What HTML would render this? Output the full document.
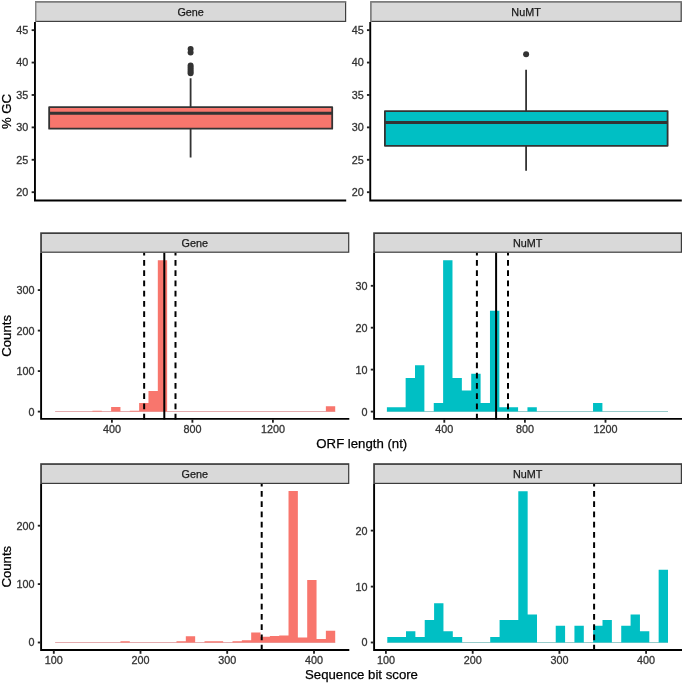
<!DOCTYPE html>
<html lang="en"><head><meta charset="utf-8"><title>GC content, ORF length and bit score: Gene vs NuMT</title>
<style>
html,body{margin:0;padding:0;background:#fff;}
body{width:685px;height:683px;overflow:hidden;}
svg{display:block;will-change:transform;}
</style></head><body>
<svg role="img" aria-label="Boxplots of percent GC and histograms of ORF length and sequence bit score for Gene versus NuMT" width="685" height="683" viewBox="0 0 685 683" font-family="Liberation Sans, Arial, Helvetica, sans-serif">
<rect width="685" height="683" fill="#fff"/>
<path d="M190.60 78.30V107.10M190.60 128.70V157.50" stroke="#333333" stroke-width="1.8" fill="none"/>
<rect x="49.15" y="107.10" width="283.05" height="21.60" fill="#F8766D" stroke="#333333" stroke-width="1.8" stroke-linejoin="round"/>
<line x1="49.15" x2="332.20" y1="113.20" y2="113.20" stroke="#333333" stroke-width="3.0"/>
<circle cx="190.60" cy="48.90" r="3.0" fill="#333333"/>
<circle cx="190.60" cy="52.50" r="3.0" fill="#333333"/>
<circle cx="190.60" cy="65.60" r="3.0" fill="#333333"/>
<circle cx="190.60" cy="67.50" r="3.0" fill="#333333"/>
<circle cx="190.60" cy="69.50" r="3.0" fill="#333333"/>
<circle cx="190.60" cy="71.50" r="3.0" fill="#333333"/>
<circle cx="190.60" cy="73.20" r="3.0" fill="#333333"/>
<path d="M526.10 69.80V111.10M526.10 145.80V170.70" stroke="#333333" stroke-width="1.8" fill="none"/>
<rect x="384.90" y="111.10" width="282.70" height="34.70" fill="#00BFC4" stroke="#333333" stroke-width="1.8" stroke-linejoin="round"/>
<line x1="384.90" x2="667.60" y1="122.50" y2="122.50" stroke="#333333" stroke-width="3.0"/>
<circle cx="526.10" cy="54.30" r="3.0" fill="#333333"/>
<path d="M34.95 22.00V200.50H346.20" fill="none" stroke="#000" stroke-width="1.9" stroke-linejoin="miter"/>
<rect x="35.00" y="1.20" width="311.20" height="20.80" fill="#404040"/>
<path d="M35.00 1.20H346.20V2.60H36.30V22.00H35.00z" fill="#858585"/>
<rect x="36.30" y="2.60" width="308.70" height="18.20" fill="#D9D9D9"/>
<text x="190.60" y="16.00" font-size="10.8" fill="#1A1A1A" stroke="#1A1A1A" stroke-width="0.25" text-anchor="middle">Gene</text>
<line x1="31.65" x2="34.45" y1="30.15" y2="30.15" stroke="#222" stroke-width="1.85"/>
<text x="28.35" y="34.05" font-size="10.8" fill="#333" stroke="#333" stroke-width="0.3" text-anchor="end">45</text>
<line x1="31.65" x2="34.45" y1="62.56" y2="62.56" stroke="#222" stroke-width="1.85"/>
<text x="28.35" y="66.46" font-size="10.8" fill="#333" stroke="#333" stroke-width="0.3" text-anchor="end">40</text>
<line x1="31.65" x2="34.45" y1="94.97" y2="94.97" stroke="#222" stroke-width="1.85"/>
<text x="28.35" y="98.87" font-size="10.8" fill="#333" stroke="#333" stroke-width="0.3" text-anchor="end">35</text>
<line x1="31.65" x2="34.45" y1="127.38" y2="127.38" stroke="#222" stroke-width="1.85"/>
<text x="28.35" y="131.28" font-size="10.8" fill="#333" stroke="#333" stroke-width="0.3" text-anchor="end">30</text>
<line x1="31.65" x2="34.45" y1="159.79" y2="159.79" stroke="#222" stroke-width="1.85"/>
<text x="28.35" y="163.69" font-size="10.8" fill="#333" stroke="#333" stroke-width="0.3" text-anchor="end">25</text>
<line x1="31.65" x2="34.45" y1="192.20" y2="192.20" stroke="#222" stroke-width="1.85"/>
<text x="28.35" y="196.10" font-size="10.8" fill="#333" stroke="#333" stroke-width="0.3" text-anchor="end">20</text>
<path d="M370.25 22.00V200.50H681.80" fill="none" stroke="#000" stroke-width="1.9" stroke-linejoin="miter"/>
<rect x="370.30" y="1.20" width="311.50" height="20.80" fill="#404040"/>
<path d="M370.30 1.20H681.80V2.60H371.60V22.00H370.30z" fill="#858585"/>
<rect x="371.60" y="2.60" width="309.00" height="18.20" fill="#D9D9D9"/>
<text x="526.05" y="16.00" font-size="10.8" fill="#1A1A1A" stroke="#1A1A1A" stroke-width="0.25" text-anchor="middle">NuMT</text>
<line x1="366.95" x2="369.75" y1="30.15" y2="30.15" stroke="#222" stroke-width="1.85"/>
<text x="363.65" y="34.05" font-size="10.8" fill="#333" stroke="#333" stroke-width="0.3" text-anchor="end">45</text>
<line x1="366.95" x2="369.75" y1="62.56" y2="62.56" stroke="#222" stroke-width="1.85"/>
<text x="363.65" y="66.46" font-size="10.8" fill="#333" stroke="#333" stroke-width="0.3" text-anchor="end">40</text>
<line x1="366.95" x2="369.75" y1="94.97" y2="94.97" stroke="#222" stroke-width="1.85"/>
<text x="363.65" y="98.87" font-size="10.8" fill="#333" stroke="#333" stroke-width="0.3" text-anchor="end">35</text>
<line x1="366.95" x2="369.75" y1="127.38" y2="127.38" stroke="#222" stroke-width="1.85"/>
<text x="363.65" y="131.28" font-size="10.8" fill="#333" stroke="#333" stroke-width="0.3" text-anchor="end">30</text>
<line x1="366.95" x2="369.75" y1="159.79" y2="159.79" stroke="#222" stroke-width="1.85"/>
<text x="363.65" y="163.69" font-size="10.8" fill="#333" stroke="#333" stroke-width="0.3" text-anchor="end">25</text>
<line x1="366.95" x2="369.75" y1="192.20" y2="192.20" stroke="#222" stroke-width="1.85"/>
<text x="363.65" y="196.10" font-size="10.8" fill="#333" stroke="#333" stroke-width="0.3" text-anchor="end">20</text>
<text transform="translate(11.1 111.5) rotate(-90)" font-size="13.2" fill="#000" stroke="#000" stroke-width="0.25" text-anchor="middle">% GC</text>
<line x1="55.10" x2="335.21" y1="411.50" y2="411.50" stroke="#D98C90" stroke-width="0.72"/>
<path d="M92.45 411.50v-0.80h9.34v0.80zM111.12 411.50v-4.62h9.34v4.62zM129.80 411.50v-0.80h9.34v0.80zM139.13 411.50v-8.44h9.34v8.44zM148.47 411.50v-20.50h9.34v20.50zM157.81 411.50v-151.15h9.34v151.15zM325.87 411.50v-5.23h9.34v5.23z" fill="#F8766D"/>
<line x1="386.90" x2="668.00" y1="411.50" y2="411.50" stroke="#6FB8B8" stroke-width="0.72"/>
<path d="M386.90 411.50v-4.20h9.37v4.20zM396.27 411.50v-4.20h9.37v4.20zM405.64 411.50v-33.60h9.37v33.60zM415.01 411.50v-46.20h9.37v46.20zM433.75 411.50v-8.40h9.37v8.40zM443.12 411.50v-151.20h9.37v151.20zM452.49 411.50v-33.60h9.37v33.60zM461.86 411.50v-21.00h9.37v21.00zM471.23 411.50v-37.80h9.37v37.80zM480.60 411.50v-8.40h9.37v8.40zM489.97 411.50v-100.80h9.37v100.80zM499.34 411.50v-4.20h9.37v4.20zM508.71 411.50v-4.20h9.37v4.20zM527.45 411.50v-4.20h9.37v4.20zM593.04 411.50v-8.40h9.37v8.40z" fill="#00BFC4"/>
<line x1="144.15" x2="144.15" y1="419.50" y2="252.80" stroke="#000" stroke-width="2" stroke-dasharray="5.85 4.4"/>
<line x1="164.30" x2="164.30" y1="419.50" y2="252.80" stroke="#000" stroke-width="2"/>
<line x1="175.50" x2="175.50" y1="419.50" y2="252.80" stroke="#000" stroke-width="2" stroke-dasharray="5.85 4.4"/>
<line x1="476.90" x2="476.90" y1="419.50" y2="252.80" stroke="#000" stroke-width="2" stroke-dasharray="5.85 4.4"/>
<line x1="496.10" x2="496.10" y1="419.50" y2="252.80" stroke="#000" stroke-width="2"/>
<line x1="508.00" x2="508.00" y1="419.50" y2="252.80" stroke="#000" stroke-width="2" stroke-dasharray="5.85 4.4"/>
<path d="M41.10 252.80V418.90H349.30" fill="none" stroke="#000" stroke-width="1.9" stroke-linejoin="miter"/>
<rect x="40.20" y="232.30" width="309.10" height="20.50" fill="#3c3c3c"/>
<rect x="41.90" y="234.00" width="306.20" height="17.60" fill="#D9D9D9"/>
<text x="194.75" y="247.00" font-size="10.8" fill="#1A1A1A" stroke="#1A1A1A" stroke-width="0.25" text-anchor="middle">Gene</text>
<path d="M374.10 252.80V418.90H682.00" fill="none" stroke="#000" stroke-width="1.9" stroke-linejoin="miter"/>
<rect x="373.20" y="232.30" width="308.80" height="20.50" fill="#3c3c3c"/>
<rect x="374.90" y="234.00" width="305.90" height="17.60" fill="#D9D9D9"/>
<text x="527.60" y="247.00" font-size="10.8" fill="#1A1A1A" stroke="#1A1A1A" stroke-width="0.25" text-anchor="middle">NuMT</text>
<line x1="37.80" x2="40.60" y1="411.60" y2="411.60" stroke="#222" stroke-width="1.85"/>
<text x="34.50" y="415.50" font-size="10.8" fill="#333" stroke="#333" stroke-width="0.3" text-anchor="end">0</text>
<line x1="37.80" x2="40.60" y1="371.10" y2="371.10" stroke="#222" stroke-width="1.85"/>
<text x="34.50" y="375.00" font-size="10.8" fill="#333" stroke="#333" stroke-width="0.3" text-anchor="end">100</text>
<line x1="37.80" x2="40.60" y1="330.60" y2="330.60" stroke="#222" stroke-width="1.85"/>
<text x="34.50" y="334.50" font-size="10.8" fill="#333" stroke="#333" stroke-width="0.3" text-anchor="end">200</text>
<line x1="37.80" x2="40.60" y1="290.10" y2="290.10" stroke="#222" stroke-width="1.85"/>
<text x="34.50" y="294.00" font-size="10.8" fill="#333" stroke="#333" stroke-width="0.3" text-anchor="end">300</text>
<line x1="370.80" x2="373.60" y1="411.60" y2="411.60" stroke="#222" stroke-width="1.85"/>
<text x="367.50" y="415.50" font-size="10.8" fill="#333" stroke="#333" stroke-width="0.3" text-anchor="end">0</text>
<line x1="370.80" x2="373.60" y1="369.60" y2="369.60" stroke="#222" stroke-width="1.85"/>
<text x="367.50" y="373.50" font-size="10.8" fill="#333" stroke="#333" stroke-width="0.3" text-anchor="end">10</text>
<line x1="370.80" x2="373.60" y1="327.70" y2="327.70" stroke="#222" stroke-width="1.85"/>
<text x="367.50" y="331.60" font-size="10.8" fill="#333" stroke="#333" stroke-width="0.3" text-anchor="end">20</text>
<line x1="370.80" x2="373.60" y1="285.80" y2="285.80" stroke="#222" stroke-width="1.85"/>
<text x="367.50" y="289.70" font-size="10.8" fill="#333" stroke="#333" stroke-width="0.3" text-anchor="end">30</text>
<line x1="111.90" x2="111.90" y1="419.40" y2="422.70" stroke="#222" stroke-width="1.85"/>
<text x="111.90" y="433.10" font-size="10.8" fill="#333" stroke="#333" stroke-width="0.3" text-anchor="middle">400</text>
<line x1="192.40" x2="192.40" y1="419.40" y2="422.70" stroke="#222" stroke-width="1.85"/>
<text x="192.40" y="433.10" font-size="10.8" fill="#333" stroke="#333" stroke-width="0.3" text-anchor="middle">800</text>
<line x1="272.90" x2="272.90" y1="419.40" y2="422.70" stroke="#222" stroke-width="1.85"/>
<text x="272.90" y="433.10" font-size="10.8" fill="#333" stroke="#333" stroke-width="0.3" text-anchor="middle">1200</text>
<line x1="444.30" x2="444.30" y1="419.40" y2="422.70" stroke="#222" stroke-width="1.85"/>
<text x="444.30" y="433.10" font-size="10.8" fill="#333" stroke="#333" stroke-width="0.3" text-anchor="middle">400</text>
<line x1="524.90" x2="524.90" y1="419.40" y2="422.70" stroke="#222" stroke-width="1.85"/>
<text x="524.90" y="433.10" font-size="10.8" fill="#333" stroke="#333" stroke-width="0.3" text-anchor="middle">800</text>
<line x1="605.50" x2="605.50" y1="419.40" y2="422.70" stroke="#222" stroke-width="1.85"/>
<text x="605.50" y="433.10" font-size="10.8" fill="#333" stroke="#333" stroke-width="0.3" text-anchor="middle">1200</text>
<text x="361.8" y="447.7" font-size="13.2" fill="#000" stroke="#000" stroke-width="0.25" text-anchor="middle">ORF length (nt)</text>
<text transform="translate(11.4 335.9) rotate(-90)" font-size="13.2" fill="#000" stroke="#000" stroke-width="0.25" text-anchor="middle">Counts</text>
<line x1="55.10" x2="335.21" y1="642.50" y2="642.50" stroke="#D98C90" stroke-width="0.72"/>
<path d="M120.46 642.50v-1.17h9.34v1.17zM176.48 642.50v-1.17h9.34v1.17zM185.82 642.50v-6.14h9.34v6.14zM204.49 642.50v-1.17h9.34v1.17zM213.83 642.50v-1.17h9.34v1.17zM232.50 642.50v-1.17h9.34v1.17zM241.84 642.50v-2.34h9.34v2.34zM251.18 642.50v-9.95h9.34v9.95zM260.51 642.50v-5.85h9.34v5.85zM269.85 642.50v-6.43h9.34v6.43zM279.19 642.50v-7.02h9.34v7.02zM288.52 642.50v-151.51h9.34v151.51zM297.86 642.50v-5.09h9.34v5.09zM307.20 642.50v-62.59h9.34v62.59zM316.54 642.50v-3.39h9.34v3.39zM325.87 642.50v-11.70h9.34v11.70z" fill="#F8766D"/>
<line x1="387.30" x2="668.01" y1="642.50" y2="642.50" stroke="#6FB8B8" stroke-width="0.72"/>
<path d="M387.30 642.50v-5.60h9.36v5.60zM396.66 642.50v-5.60h9.36v5.60zM406.01 642.50v-11.20h9.36v11.20zM415.37 642.50v-5.60h9.36v5.60zM424.73 642.50v-22.40h9.36v22.40zM434.09 642.50v-39.20h9.36v39.20zM443.44 642.50v-11.20h9.36v11.20zM452.80 642.50v-5.60h9.36v5.60zM490.23 642.50v-5.60h9.36v5.60zM499.58 642.50v-22.40h9.36v22.40zM508.94 642.50v-22.40h9.36v22.40zM518.30 642.50v-151.20h9.36v151.20zM527.65 642.50v-28.00h9.36v28.00zM555.73 642.50v-16.80h9.36v16.80zM574.44 642.50v-16.80h9.36v16.80zM593.15 642.50v-16.80h9.36v16.80zM602.51 642.50v-22.40h9.36v22.40zM621.23 642.50v-16.80h9.36v16.80zM630.58 642.50v-28.00h9.36v28.00zM639.94 642.50v-11.20h9.36v11.20zM658.65 642.50v-72.80h9.36v72.80z" fill="#00BFC4"/>
<line x1="261.70" x2="261.70" y1="650.60" y2="484.00" stroke="#000" stroke-width="2" stroke-dasharray="5.85 4.4"/>
<line x1="594.10" x2="594.10" y1="650.60" y2="484.00" stroke="#000" stroke-width="2" stroke-dasharray="5.85 4.4"/>
<path d="M41.10 484.00V650.00H349.30" fill="none" stroke="#000" stroke-width="1.9" stroke-linejoin="miter"/>
<rect x="40.20" y="463.20" width="309.10" height="20.80" fill="#3c3c3c"/>
<rect x="41.90" y="464.90" width="306.20" height="17.90" fill="#D9D9D9"/>
<text x="194.75" y="477.70" font-size="10.8" fill="#1A1A1A" stroke="#1A1A1A" stroke-width="0.25" text-anchor="middle">Gene</text>
<path d="M374.10 484.00V650.00H682.00" fill="none" stroke="#000" stroke-width="1.9" stroke-linejoin="miter"/>
<rect x="373.20" y="463.20" width="308.80" height="20.80" fill="#3c3c3c"/>
<rect x="374.90" y="464.90" width="305.90" height="17.90" fill="#D9D9D9"/>
<text x="527.60" y="477.70" font-size="10.8" fill="#1A1A1A" stroke="#1A1A1A" stroke-width="0.25" text-anchor="middle">NuMT</text>
<line x1="37.80" x2="40.60" y1="642.50" y2="642.50" stroke="#222" stroke-width="1.85"/>
<text x="34.50" y="646.40" font-size="10.8" fill="#333" stroke="#333" stroke-width="0.3" text-anchor="end">0</text>
<line x1="37.80" x2="40.60" y1="584.10" y2="584.10" stroke="#222" stroke-width="1.85"/>
<text x="34.50" y="588.00" font-size="10.8" fill="#333" stroke="#333" stroke-width="0.3" text-anchor="end">100</text>
<line x1="37.80" x2="40.60" y1="525.70" y2="525.70" stroke="#222" stroke-width="1.85"/>
<text x="34.50" y="529.60" font-size="10.8" fill="#333" stroke="#333" stroke-width="0.3" text-anchor="end">200</text>
<line x1="370.80" x2="373.60" y1="642.50" y2="642.50" stroke="#222" stroke-width="1.85"/>
<text x="367.50" y="646.40" font-size="10.8" fill="#333" stroke="#333" stroke-width="0.3" text-anchor="end">0</text>
<line x1="370.80" x2="373.60" y1="586.60" y2="586.60" stroke="#222" stroke-width="1.85"/>
<text x="367.50" y="590.50" font-size="10.8" fill="#333" stroke="#333" stroke-width="0.3" text-anchor="end">10</text>
<line x1="370.80" x2="373.60" y1="530.60" y2="530.60" stroke="#222" stroke-width="1.85"/>
<text x="367.50" y="534.50" font-size="10.8" fill="#333" stroke="#333" stroke-width="0.3" text-anchor="end">20</text>
<line x1="53.80" x2="53.80" y1="650.50" y2="653.80" stroke="#222" stroke-width="1.85"/>
<text x="53.80" y="664.20" font-size="10.8" fill="#333" stroke="#333" stroke-width="0.3" text-anchor="middle">100</text>
<line x1="140.50" x2="140.50" y1="650.50" y2="653.80" stroke="#222" stroke-width="1.85"/>
<text x="140.50" y="664.20" font-size="10.8" fill="#333" stroke="#333" stroke-width="0.3" text-anchor="middle">200</text>
<line x1="227.20" x2="227.20" y1="650.50" y2="653.80" stroke="#222" stroke-width="1.85"/>
<text x="227.20" y="664.20" font-size="10.8" fill="#333" stroke="#333" stroke-width="0.3" text-anchor="middle">300</text>
<line x1="314.00" x2="314.00" y1="650.50" y2="653.80" stroke="#222" stroke-width="1.85"/>
<text x="314.00" y="664.20" font-size="10.8" fill="#333" stroke="#333" stroke-width="0.3" text-anchor="middle">400</text>
<line x1="385.90" x2="385.90" y1="650.50" y2="653.80" stroke="#222" stroke-width="1.85"/>
<text x="385.90" y="664.20" font-size="10.8" fill="#333" stroke="#333" stroke-width="0.3" text-anchor="middle">100</text>
<line x1="472.70" x2="472.70" y1="650.50" y2="653.80" stroke="#222" stroke-width="1.85"/>
<text x="472.70" y="664.20" font-size="10.8" fill="#333" stroke="#333" stroke-width="0.3" text-anchor="middle">200</text>
<line x1="559.40" x2="559.40" y1="650.50" y2="653.80" stroke="#222" stroke-width="1.85"/>
<text x="559.40" y="664.20" font-size="10.8" fill="#333" stroke="#333" stroke-width="0.3" text-anchor="middle">300</text>
<line x1="646.10" x2="646.10" y1="650.50" y2="653.80" stroke="#222" stroke-width="1.85"/>
<text x="646.10" y="664.20" font-size="10.8" fill="#333" stroke="#333" stroke-width="0.3" text-anchor="middle">400</text>
<text x="361.5" y="678.6" font-size="13.2" fill="#000" stroke="#000" stroke-width="0.25" text-anchor="middle">Sequence bit score</text>
<text transform="translate(11.4 566.7) rotate(-90)" font-size="13.2" fill="#000" stroke="#000" stroke-width="0.25" text-anchor="middle">Counts</text>
</svg>
</body></html>
